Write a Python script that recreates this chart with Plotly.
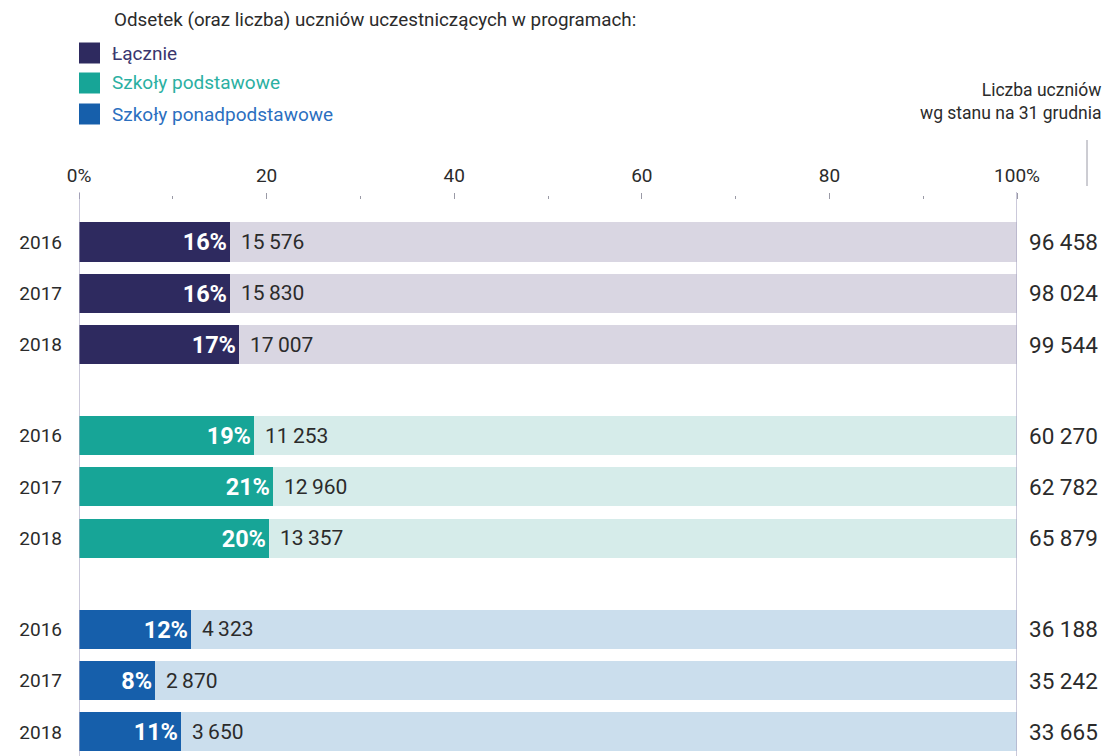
import plotly.graph_objects as go

groups = ["Łącznie", "Szkoły podstawowe", "Szkoły ponadpodstawowe"]
years = ["2016", "2017", "2018"]
participants = {
    "Łącznie": [15576, 15830, 17007],
    "Szkoły podstawowe": [11253, 12960, 13357],
    "Szkoły ponadpodstawowe": [4323, 2870, 3650],
}
totals = {
    "Łącznie": [96458, 98024, 99544],
    "Szkoły podstawowe": [60270, 62782, 65879],
    "Szkoły ponadpodstawowe": [36188, 35242, 33665],
}
tick_vals = [0, 20, 40, 60, 80, 100]
tick_text = ["0%", "20", "40", "60", "80", "100%"]

main_colors = ["#2e2a5f", "#17a597", "#165fab"]
bg_colors = ["#d9d6e2", "#d6ecea", "#cbdeed"]
legend_text_colors = ["#3a366e", "#2bb0a2", "#2b6fbf"]
TXT = "#2b2b2b"
FONT = "Roboto"
GAP = 0.77


def fmt(n, sep="\u2009"):
    return f"{n:,}".replace(",", sep)


# page offset (body margin) and figure geometry, in reference pixels
OFF = 8
W, H = 1111 - OFF, 756 - OFF
L, R, T, B = 79 - OFF, 94, 200 - OFF, 0
pw, ph = W - L - R, H - T - B


def px_x(x):
    return (x - OFF - L) / pw


def px_y(y):
    return (H - B - (y - OFF)) / ph


fig = go.Figure()
annotations = []
shapes = []
ypos_all, ytext_all = [], []

for gi, g in enumerate(groups):
    ypos = [gi * (len(years) + GAP) + i for i in range(len(years))]
    pct = [c / t * 100 for c, t in zip(participants[g], totals[g])]
    ypos_all += ypos
    ytext_all += years
    fig.add_trace(go.Bar(
        x=[100] * len(years), y=ypos, orientation="h", width=0.76,
        marker=dict(color=bg_colors[gi], line=dict(width=0)),
        showlegend=False, hoverinfo="skip"))
    fig.add_trace(go.Bar(
        x=pct, y=ypos, orientation="h", width=0.76, name=g,
        marker=dict(color=main_colors[gi], line=dict(width=0)),
        text=[f"<b>{round(p)}%</b>" for p in pct], textposition="inside",
        insidetextanchor="end", textangle=0,
        textfont=dict(family=FONT, size=23.5, color="white"),
        cliponaxis=False, showlegend=False))
    for y, p, c, t in zip(ypos, pct, participants[g], totals[g]):
        annotations.append(dict(x=p, y=y, xref="x", yref="y", text=fmt(c),
                                xanchor="left", xshift=9, showarrow=False,
                                font=dict(family=FONT, size=21, color=TXT)))
        annotations.append(dict(x=px_x(1027), y=y, xref="paper", yref="y", text=fmt(t, " "),
                                xanchor="left", showarrow=False,
                                font=dict(family=FONT, size=22.5, color=TXT)))

# legend (manual)
annotations.append(dict(x=px_x(112), y=px_y(20), xref="paper", yref="paper",
                        text="Odsetek (oraz liczba) uczniów uczestniczących w programach:",
                        xanchor="left", yanchor="middle", showarrow=False,
                        font=dict(family=FONT, size=18.8, color=TXT)))
leg_y_px = [53, 83, 114]
for gi, g in enumerate(groups):
    cy = leg_y_px[gi]
    shapes.append(dict(type="rect", xref="paper", yref="paper",
                       x0=px_x(79), x1=px_x(100), y0=px_y(cy - 10.5), y1=px_y(cy + 10.5),
                       fillcolor=main_colors[gi], line=dict(width=0)))
    annotations.append(dict(x=px_x(110), y=px_y(cy), xref="paper", yref="paper",
                            text=g, xanchor="left", yanchor="middle", showarrow=False,
                            font=dict(family=FONT, size=19, color=legend_text_colors[gi])))

annotations.append(dict(x=px_x(1104), y=px_y(101), xref="paper", yref="paper",
                        text="Liczba uczniów<br>wg stanu na 31 grudnia",
                        xanchor="right", yanchor="middle", align="right", showarrow=False,
                        font=dict(family=FONT, size=17.5, color=TXT)))
shapes.append(dict(type="line", xref="paper", yref="paper",
                   x0=px_x(1087), x1=px_x(1087), y0=px_y(140), y1=px_y(186),
                   line=dict(color="#9a9aa6", width=1)))
for xv in [0, 100]:
    shapes.append(dict(type="line", xref="x", yref="paper", x0=xv, x1=xv,
                       y0=0, y1=px_y(192),
                       line=dict(color="#a8a5c2", width=1.2), layer="above"))

ymin = -0.818
ymax = ypos_all[-1] + 0.47

fig.update_layout(
    width=W, height=H, margin=dict(l=L, r=R, t=T, b=B),
    paper_bgcolor="white", plot_bgcolor="white",
    barmode="overlay", bargap=0,
    font=dict(family=FONT, color=TXT),
    uniformtext=dict(minsize=10, mode="show"),
    xaxis=dict(side="top", range=[0, 100], tickvals=tick_vals, ticktext=tick_text,
               showgrid=False, zeroline=False, showline=False,
               ticks="outside", ticklen=6, tickcolor="#9a9aa6", tickwidth=1,
               ticklabelstandoff=3,
               minor=dict(dtick=10, ticks="outside", ticklen=3, tickcolor="#9a9aa6"),
               tickfont=dict(family=FONT, size=19, color=TXT), fixedrange=True),
    yaxis=dict(range=[ymax, ymin], tickvals=ypos_all, ticktext=ytext_all,
               showgrid=False, zeroline=False, showline=False, ticks="",
               ticklabelstandoff=16,
               tickfont=dict(family=FONT, size=19, color=TXT), fixedrange=True),
    annotations=annotations, shapes=shapes,
)

fig.write_html("out.html")
